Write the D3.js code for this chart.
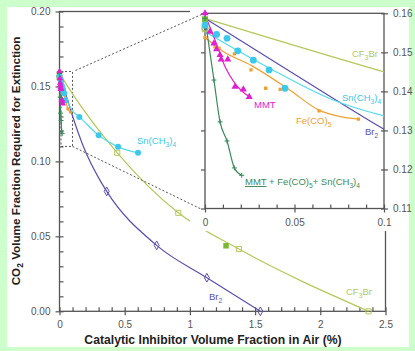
<!DOCTYPE html>
<html>
<head>
<meta charset="utf-8">
<script src="https://cdn.jsdelivr.net/npm/d3@7"></script>
<style>
  html, body { margin: 0; padding: 0; background: #ccffcc; }
  svg { display: block; font-family: Arial, "Liberation Sans", sans-serif; }
</style>
</head>
<body>
<svg id="chart" width="415" height="351"></svg>
<script>
// values: [inhibitor %, CO2 fraction]
const br2Points = [[0, 0.157], [0.362, 0.080], [0.745, 0.044], [1.13, 0.0224], [1.54, 0.0]];
const br2Fit = [[0, 0.1587], [0.05, 0.1444], [0.1, 0.1303], [0.183, 0.110], [0.31, 0.0875], [0.362, 0.080], [0.745, 0.044], [1.13, 0.0224], [1.54, 0.0]];

const cf3brPoints = [[0, 0.156], [0.443, 0.1057], [0.911, 0.0657], [1.376, 0.0415], [2.37, 0.0]];
const cf3brFilled = [[0, 0.1585], [1.277, 0.0437]];
const cf3brFit = [[0, 0.1587], [0.1, 0.145], [0.443, 0.1057], [0.911, 0.0657], [1.376, 0.0415], [2.37, 0.0]];

const snPoints = [[0, 0.157], [0.0065, 0.1546], [0.0123, 0.1536], [0.0183, 0.1504], [0.027, 0.148], [0.0358, 0.1455], [0.0447, 0.1408],
  [0.152, 0.1297], [0.30, 0.1175], [0.449, 0.1097], [0.602, 0.1057]];
const snFit = [[0, 0.1553], [0.035, 0.1462], [0.0716, 0.1378], [0.1, 0.1337], [0.152, 0.1297], [0.30, 0.1175], [0.449, 0.1097], [0.602, 0.1057]];

const fePoints = [[0, 0.1538], [0.0056, 0.1514], [0.0078, 0.1511], [0.0164, 0.1496], [0.0257, 0.1455], [0.0339, 0.1408], [0.042, 0.1405], [0.0637, 0.135], [0.0857, 0.1329]];
const feFit = [[0, 0.1538], [0.01, 0.1503], [0.026, 0.1466], [0.0475, 0.1403], [0.0637, 0.1352], [0.075, 0.1336], [0.0857, 0.1329]];

const mmtPoints = [[0, 0.160], [0.0028, 0.1553], [0.005, 0.1523], [0.0065, 0.1508], [0.0084, 0.1493], [0.009, 0.1482], [0.0127, 0.1482], [0.0168, 0.1412], [0.0214, 0.1405], [0.0247, 0.1386]];
const mmtFit = [[0, 0.1595], [0.0056, 0.1532], [0.0112, 0.1463], [0.0168, 0.142], [0.0247, 0.1386]];

const mixPoints = [[0, 0.1587], [0.005, 0.1429], [0.0084, 0.1322], [0.0123, 0.1273], [0.0164, 0.1204], [0.0205, 0.1185]];
const baselineCircle = [[0, 0.1562]];

const mainXTicks = [0, 0.5, 1, 1.5, 2, 2.5];
const mainYTicks = [0, 0.05, 0.1, 0.15, 0.2];
const insetXTicks = [0, 0.05, 0.1];
const insetYTicks = [0.11, 0.12, 0.13, 0.14, 0.15, 0.16];

const colors = {
  br2: '#5a4fb0', cf3br: '#b4c85a', cf3brFill: '#78b832', sn: '#3cc8ea', snLine: '#52dced',
  fe: '#f0a030', mmt: '#e01ed2', mix: '#3a8a5a', axis: '#555', text: '#555'
};

const svg = d3.select('#chart');
svg.append('rect').attr('x', 7).attr('y', 7).attr('width', 402).attr('height', 340).attr('fill', '#fff');

// ---------- main chart ----------
const x = d3.scaleLinear().domain([0, 2.5]).range([59.5, 385.5]);
const y = d3.scaleLinear().domain([0, 0.2]).range([311.3, 11.5]);

const main = svg.append('g');
main.append('rect')
  .attr('x', x(0)).attr('y', y(0.2)).attr('width', x(2.5) - x(0)).attr('height', y(0) - y(0.2))
  .attr('fill', 'none').attr('stroke', colors.axis).attr('stroke-width', 1.3);

function styleAxis(g) {
  g.select('.domain').remove();
  g.selectAll('line').attr('stroke', colors.axis).attr('stroke-width', 1.2);
  g.selectAll('text').attr('fill', colors.text).attr('font-size', 10);
}

main.append('g').attr('transform', `translate(0,${y(0)})`)
  .call(d3.axisBottom(x).tickValues(mainXTicks).tickSize(4).tickPadding(6).tickFormat(d3.format('')))
  .call(styleAxis);
main.append('g').attr('transform', `translate(0,${y(0)})`)
  .call(d3.axisTop(x).tickValues(d3.range(0, 2.51, 0.1)).tickSize(4).tickFormat(''))
  .call(styleAxis);
main.append('g').attr('transform', `translate(${x(0)},0)`)
  .call(d3.axisLeft(y).tickValues(mainYTicks).tickSize(4).tickPadding(5).tickFormat(d3.format('.2f')))
  .call(styleAxis);
main.append('g').attr('transform', `translate(${x(0)},0)`)
  .call(d3.axisRight(y).tickValues(d3.range(0, 0.201, 0.01)).tickSize(4).tickFormat(''))
  .call(styleAxis);

// zoom box in the main chart
main.append('rect')
  .attr('x', x(0) + 1.5).attr('y', y(0.16)).attr('width', x(0.1) - x(0) - 1.5).attr('height', y(0.11) - y(0.16))
  .attr('fill', 'none').attr('stroke', colors.axis).attr('stroke-dasharray', '2,2');

function line(xs, ys) {
  return d3.line().x(d => xs(d[0])).y(d => ys(d[1])).curve(d3.curveMonotoneX);
}

function drawSeries(g, xs, ys, big) {
  const k = big ? 1.2 : 1;
  const lw = 1.2;
  g.append('path').attr('d', line(xs, ys)(cf3brFit)).attr('fill', 'none').attr('stroke', colors.cf3br).attr('stroke-width', lw);
  g.append('path').attr('d', line(xs, ys)(br2Fit)).attr('fill', 'none').attr('stroke', colors.br2).attr('stroke-width', lw);
  g.append('path').attr('d', line(xs, ys)(snFit)).attr('fill', 'none').attr('stroke', colors.snLine).attr('stroke-width', lw);
  g.append('path').attr('d', line(xs, ys)(feFit)).attr('fill', 'none').attr('stroke', colors.fe).attr('stroke-width', lw);
  g.append('path').attr('d', line(xs, ys)(mmtFit)).attr('fill', 'none').attr('stroke', colors.mmt).attr('stroke-width', lw);
  g.append('path').attr('d', line(xs, ys)(mixPoints)).attr('fill', 'none').attr('stroke', colors.mix).attr('stroke-width', lw);

  const tr = d => `translate(${xs(d[0])},${ys(d[1])})`;
  g.selectAll(null).data(br2Points).enter().append('path')
    .attr('d', d3.symbol(d3.symbolDiamond, 22 * k)).attr('transform', tr)
    .attr('fill', 'none').attr('stroke', colors.br2);
  g.selectAll(null).data(cf3brPoints).enter().append('path')
    .attr('d', d3.symbol(d3.symbolSquare, 26 * k)).attr('transform', tr)
    .attr('fill', 'none').attr('stroke', colors.cf3br);
  g.selectAll(null).data(cf3brFilled).enter().append('path')
    .attr('d', d3.symbol(d3.symbolSquare, 30 * k)).attr('transform', tr)
    .attr('fill', colors.cf3brFill);
  g.selectAll(null).data(baselineCircle).enter().append('circle')
    .attr('r', 2.6 * k).attr('cx', d => xs(d[0])).attr('cy', d => ys(d[1]))
    .attr('fill', 'none').attr('stroke', '#8cc060');
  g.selectAll(null).data(fePoints).enter().append('path')
    .attr('d', d3.symbol(d3.symbolSquare, 9 * k)).attr('transform', tr)
    .attr('fill', colors.fe);
  g.selectAll(null).data(snPoints).enter().append('circle')
    .attr('r', big ? 3.4 : 3).attr('cx', d => xs(d[0])).attr('cy', d => ys(d[1]))
    .attr('fill', colors.sn);
  g.selectAll(null).data(mmtPoints).enter().append('path')
    .attr('d', d3.symbol(d3.symbolTriangle, 18 * k)).attr('transform', tr)
    .attr('fill', colors.mmt);
  g.selectAll(null).data(mixPoints).enter().append('path')
    .attr('d', 'M-2.5,0H2.5M0,-2.5V2.5').attr('transform', tr)
    .attr('fill', 'none').attr('stroke', colors.mix).attr('stroke-width', 1);
}

drawSeries(main.append('g'), x, y, false);

// label with subscripts: parts = [[text, kind], ...]
function label(g, px, py, parts, color, size, anchor) {
  const t = g.append('text').attr('x', px).attr('y', py).attr('fill', color)
    .attr('font-size', size).attr('text-anchor', anchor || 'start');
  parts.forEach(p => {
    const s = t.append('tspan').text(p[0]);
    if (p[1] === 'sub') s.attr('font-size', size * 0.7).attr('dy', 2.5);
    else if (p[1] === 'back') s.attr('dy', -2.5);
    else if (p[1] === 'u') s.attr('text-decoration', 'underline');
  });
  return t;
}

label(main, 137, 144, [['Sn(CH'], ['3', 'sub'], [')', 'back'], ['4', 'sub']], colors.sn, 9.5);
label(main, 209, 300, [['Br'], ['2', 'sub']], colors.br2, 9.5);
label(main, 346, 295, [['CF'], ['3', 'sub'], ['Br', 'back']], colors.cf3br, 9.5);

// ---------- inset ----------
const ix = d3.scaleLinear().domain([0, 0.1]).range([205, 384]);
const iy = d3.scaleLinear().domain([0.11, 0.16]).range([208.5, 13.3]);

const inset = svg.append('g');
inset.append('rect').attr('x', 190).attr('y', 7).attr('width', 218).attr('height', 224).attr('fill', '#fff');

// dotted connectors
svg.append('line').attr('x1', x(0.1) + 3).attr('y1', y(0.16) - 1).attr('x2', ix(0) - 3).attr('y2', iy(0.16) + 1)
  .attr('stroke', colors.axis).attr('stroke-dasharray', '2,2');
svg.append('line').attr('x1', x(0.1)).attr('y1', y(0.11)).attr('x2', ix(0) - 3).attr('y2', iy(0.11) + 1)
  .attr('stroke', colors.axis).attr('stroke-dasharray', '2,2');

inset.append('rect')
  .attr('x', ix(0)).attr('y', iy(0.16)).attr('width', ix(0.1) - ix(0)).attr('height', iy(0.11) - iy(0.16))
  .attr('fill', 'none').attr('stroke', colors.axis).attr('stroke-width', 1.3);

inset.append('g').attr('transform', `translate(0,${iy(0.11)})`)
  .call(d3.axisBottom(ix).tickValues(insetXTicks).tickSize(4).tickPadding(6).tickFormat(d3.format('')))
  .call(styleAxis);
inset.append('g').attr('transform', `translate(0,${iy(0.11)})`)
  .call(d3.axisTop(ix).tickValues(d3.range(0, 0.1001, 0.01)).tickSize(4).tickFormat(''))
  .call(styleAxis);
inset.append('g').attr('transform', `translate(${ix(0)},0)`)
  .call(d3.axisLeft(iy).tickValues(insetYTicks).tickSize(4).tickFormat(''))
  .call(styleAxis);
inset.append('g').attr('transform', `translate(${ix(0.1)},0)`)
  .call(d3.axisRight(iy).tickValues(insetYTicks).tickSize(4).tickPadding(5).tickFormat(d3.format('.2f')))
  .call(styleAxis);
inset.append('g').attr('transform', `translate(${ix(0.1)},0)`)
  .call(d3.axisLeft(iy).tickValues(insetYTicks).tickSize(3).tickFormat(''))
  .call(styleAxis);

svg.append('clipPath').attr('id', 'insetClip').append('rect')
  .attr('x', ix(0) - 6).attr('y', iy(0.16) - 6).attr('width', ix(0.1) - ix(0) + 6).attr('height', iy(0.11) - iy(0.16) + 6);
drawSeries(inset.append('g').attr('clip-path', 'url(#insetClip)'), ix, iy, true);

label(inset, 352, 57, [['CF'], ['3', 'sub'], ['Br', 'back']], colors.cf3br, 9.5);
label(inset, 342, 101, [['Sn(CH'], ['3', 'sub'], [')', 'back'], ['4', 'sub']], colors.sn, 9.5);
label(inset, 296, 124, [['Fe(CO)'], ['5', 'sub']], colors.fe, 9.5);
label(inset, 365, 135, [['Br'], ['2', 'sub']], colors.br2, 9.5);
label(inset, 254, 108, [['MMT']], colors.mmt, 9.5);
label(inset, 245, 185, [['MMT', 'u'], [' + Fe(CO)'], ['5', 'sub'], ['+ Sn(CH', 'back'], ['3', 'sub'], [')', 'back'], ['4', 'sub']], colors.mix, 9.5);

// ---------- axis titles ----------
const yTitle = svg.append('text').attr('transform', 'translate(20,161) rotate(-90)')
  .attr('text-anchor', 'middle').attr('font-size', 11.7).attr('font-weight', 'bold').attr('fill', '#222');
yTitle.append('tspan').text('CO');
yTitle.append('tspan').text('2').attr('font-size', 8.5).attr('dy', 2.5);
yTitle.append('tspan').text(' Volume Fraction Required for Extinction').attr('dy', -2.5);

svg.append('text').attr('x', 213).attr('y', 344).attr('text-anchor', 'middle')
  .attr('font-size', 12.2).attr('font-weight', 'bold').attr('fill', '#222')
  .text('Catalytic Inhibitor Volume Fraction in Air (%)');
</script>
</body>
</html>
